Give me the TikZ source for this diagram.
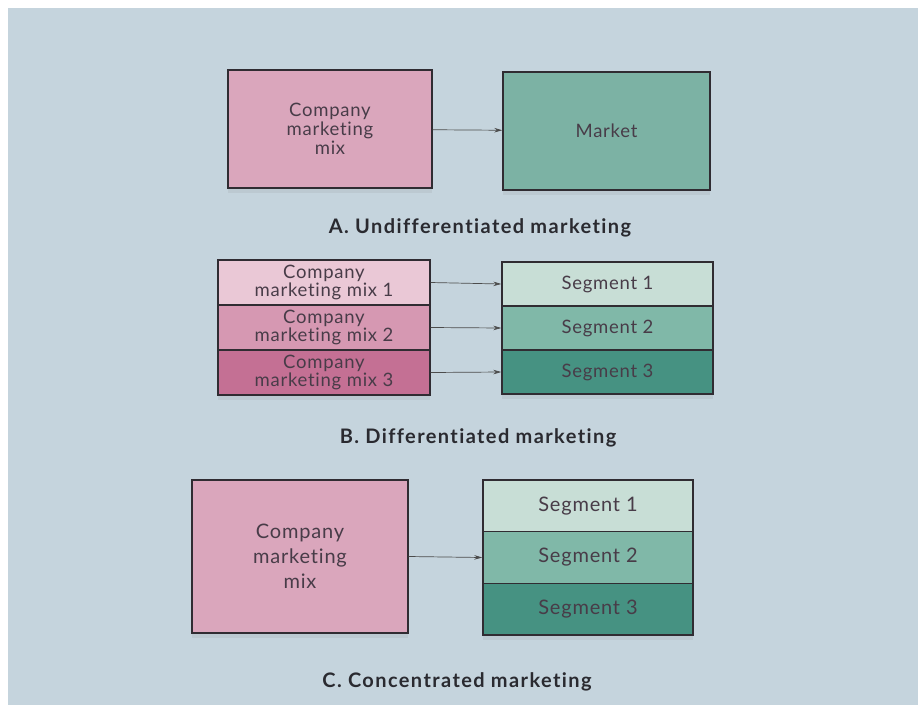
\documentclass[tikz,border=0pt]{standalone}
\usepackage{fontspec}
\setmainfont[Ligatures=NoCommon,LetterSpace=4]{Lato}
\newfontfamily\ttlfont[Ligatures=NoCommon,LetterSpace=7]{Lato}
\usetikzlibrary{arrows.meta,shadows}
\definecolor{bg}{RGB}{197,212,221}
\definecolor{edge}{RGB}{48,44,50}
\definecolor{txt}{RGB}{72,60,72}
\definecolor{ttl}{RGB}{42,42,48}
\definecolor{pinkA}{RGB}{218,166,188}
\definecolor{pinkB}{RGB}{234,200,214}
\definecolor{pinkC}{RGB}{214,152,178}
\definecolor{pinkD}{RGB}{196,112,148}
\definecolor{greenM}{RGB}{124,178,164}
\definecolor{greenS}{RGB}{200,222,214}
\definecolor{greenT}{RGB}{128,184,168}
\definecolor{greenU}{RGB}{70,146,130}
\begin{document}
\begin{tikzpicture}[x=1pt,y=-1pt,
  box/.style={draw=edge, line width=1.4pt, inner sep=0pt, align=center, text=txt},
  shd/.style={drop shadow={opacity=0.12, shadow xshift=0pt, shadow yshift=-5pt}},
  fa/.style={font=\fontsize{18.5}{19}\selectfont},
  fb/.style={font=\fontsize{18.5}{18}\selectfont},
  fc/.style={font=\fontsize{20}{25}\selectfont},
  ttlstyle/.style={text=ttl, font=\fontsize{20}{22}\ttlfont\bfseries},
  conn/.style={draw=gray!60!black, line width=0.7pt, -{Stealth[length=8pt,width=4.5pt]}}]
\fill[white] (0,0) rectangle (918,718);
\fill[bg] (8,8) rectangle (918,705);
\useasboundingbox (0,0) rectangle (918,718);
% A
\node[box, shd, fa, fill=pinkA, minimum width=204pt, minimum height=118pt] (amix) at (330,129) {Company\\marketing\\mix};
\node[box, shd, fa, fill=greenM, minimum width=207pt, minimum height=118pt] (amkt) at (606.5,131) {Market};
\draw[conn] (amix) -- (amkt);
\node[ttlstyle] (alab) at (480,228) {A. Undifferentiated marketing};
% B
\node[box, fb, fill=pinkB, minimum width=212pt, minimum height=45pt] (bmix1) at (324,282.5) {Company\\marketing mix 1};
\node[box, fb, fill=pinkC, minimum width=212pt, minimum height=45pt] (bmix2) at (324,327.5) {Company\\marketing mix 2};
\node[box, shd, fb, fill=pinkD, minimum width=212pt, minimum height=45pt] (bmix3) at (324,372.5) {Company\\marketing mix 3};
\node[box, fb, fill=greenS, minimum width=211pt, minimum height=44pt] (bseg1) at (607.5,284) {Segment 1};
\node[box, fb, fill=greenT, minimum width=211pt, minimum height=44pt] (bseg2) at (607.5,328) {Segment 2};
\node[box, shd, fb, fill=greenU, minimum width=211pt, minimum height=44pt] (bseg3) at (607.5,372) {Segment 3};
\draw[conn] (bmix1.east) -- (bseg1.west);
\draw[conn] (bmix2.east) -- (bseg2.west);
\draw[conn] (bmix3.east) -- (bseg3.west);
\node[ttlstyle] (blab) at (478,438) {B. Differentiated marketing};
% C
\node[box, shd, fc, fill=pinkA, minimum width=216pt, minimum height=153pt] (cmix) at (300,556.5) {Company\\marketing\\mix};
\node[box, fc, fill=greenS, minimum width=210pt, minimum height=51.7pt] (cseg1) at (588,505.8) {Segment 1};
\node[box, fc, fill=greenT, minimum width=210pt, minimum height=51.7pt] (cseg2) at (588,557.5) {Segment 2};
\node[box, shd, fc, fill=greenU, minimum width=210pt, minimum height=51.7pt] (cseg3) at (588,609.2) {Segment 3};
\draw[conn] (cmix.east) -- (cseg2.west);
\node[ttlstyle] (clab) at (457,682) {C. Concentrated marketing};
\end{tikzpicture}
\end{document}
